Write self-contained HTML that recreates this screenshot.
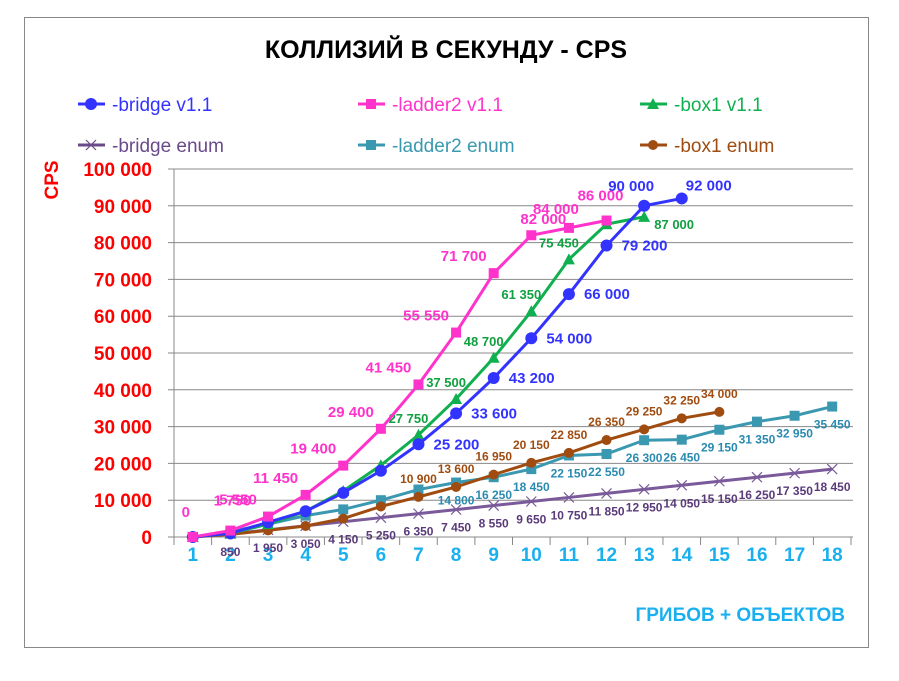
<!DOCTYPE html>
<html><head><meta charset="utf-8"><style>
body{margin:0;background:#fff;}
svg{display:block;font-family:"Liberation Sans","DejaVu Sans",sans-serif;}
</style></head><body>
<svg id="c" width="899" height="681" viewBox="0 0 899 681">
<rect x="24.5" y="17.5" width="844" height="630" fill="#fff" stroke="#888"/>
<text x="446" y="58" text-anchor="middle" font-size="25" font-weight="bold" fill="#000">КОЛЛИЗИЙ В СЕКУНДУ - CPS</text>
<g id="legend"></g>
<g id="grid"></g>
<g id="plot"></g>
<text x="0" y="0" transform="translate(58,180) rotate(-90)" text-anchor="middle" font-size="19" font-weight="bold" fill="#f00">CPS</text>
<text x="845" y="621" text-anchor="end" font-size="19" font-weight="bold" fill="#1ab0f0">ГРИБОВ + ОБЪЕКТОВ</text>
</svg>
<script>
const categories=[1,2,3,4,5,6,7,8,9,10,11,12,13,14,15,16,17,18];
const yTicks=[0,10000,20000,30000,40000,50000,60000,70000,80000,90000,100000];
const bridgeV11=[0,1000,4000,7000,12000,18000,25200,33600,43200,54000,66000,79200,90000,92000];
const ladder2V11=[0,1750,5550,11450,19400,29400,41450,55550,71700,82000,84000,86000];
const box1V11=[0,1000,3500,7000,12500,19500,27750,37500,48700,61350,75450,85000,87000];
const bridgeEnum=[0,850,1950,3050,4150,5250,6350,7450,8550,9650,10750,11850,12950,14050,15150,16250,17350,18450];
const ladder2Enum=[0,1500,3500,5800,7500,10000,12900,14800,16250,18450,22150,22550,26300,26450,29150,31350,32950,35450];
const box1Enum=[0,700,1800,3000,5000,8300,10900,13600,16950,20150,22850,26350,29250,32250,34000];
const bridgeV11Labels=[null,null,null,null,null,null,"25 200","33 600","43 200","54 000","66 000","79 200","90 000","92 000"];
const ladder2V11Labels=["0","1 750","5 550","11 450","19 400","29 400","41 450","55 550","71 700","82 000","84 000","86 000"];
const box1V11Labels=[null,null,null,null,null,null,"27 750","37 500","48 700","61 350","75 450",null,"87 000"];
const bridgeEnumLabels=[null,"850","1 950","3 050","4 150","5 250","6 350","7 450","8 550","9 650","10 750","11 850","12 950","14 050","15 150","16 250","17 350","18 450"];
const ladder2EnumLabels=[null,null,null,null,null,null,null,"14 800","16 250","18 450","22 150","22 550","26 300","26 450","29 150","31 350","32 950","35 450"];
const box1EnumLabels=[null,null,null,null,null,null,"10 900","13 600","16 950","20 150","22 850","26 350","29 250","32 250","34 000"];

const NS="http://www.w3.org/2000/svg";
const L=174,R=851,T=169,B=537;
const step=(R-L)/categories.length;
const x=i=>L+step*(i+0.5);
const y=v=>B-(v/100000)*(B-T);
function mk(tag,attrs,parent){const e=document.createElementNS(NS,tag);for(const k in attrs)e.setAttribute(k,attrs[k]);parent.appendChild(e);return e;}
const grid=document.getElementById('grid'),plot=document.getElementById('plot'),leg=document.getElementById('legend');
yTicks.forEach(t=>{
  const ln=mk('line',{x1:L-6,x2:R+2,y1:y(t),y2:y(t),stroke:'#888','stroke-width':1},grid);
  
  
  const tx=mk('text',{x:152,y:y(t)+7,'text-anchor':'end','font-size':19,'font-weight':'bold',fill:'#f00'},grid);
  tx.textContent=t===0?'0':(t/1000)+' 000';
  
  
});
const yl=mk('line',{x1:L,x2:L,y1:T,y2:B+8,stroke:'#888'},grid);


for(let i=0;i<=categories.length;i++){
  const tk=mk('line',{x1:L+step*i,x2:L+step*i,y1:B,y2:B+8,stroke:'#888'},grid);
  
  
}
categories.forEach((c,i)=>{
  const tx=mk('text',{x:x(i),y:561,'text-anchor':'middle','font-size':19,'font-weight':'bold',fill:'#1ab0f0'},grid);
  tx.textContent=c;
  
  
});
function marker(g,type,cx,cy,col){
  let m;
  if(type==='circle')m=mk('circle',{cx,cy,r:6,fill:col},g);
  else if(type==='square')m=mk('rect',{x:cx-5,y:cy-5,width:10,height:10,fill:col},g);
  else if(type==='tri')m=mk('polygon',{points:`${cx},${cy-6} ${cx+6},${cy+5} ${cx-6},${cy+5}`,fill:col},g);
  else if(type==='dot')m=mk('circle',{cx,cy,r:5,fill:col},g);
  else {m=mk('path',{d:`M${cx-5} ${cy-5}L${cx+5} ${cy+5}M${cx-5} ${cy+5}L${cx+5} ${cy-5}`,stroke:col,'stroke-width':1.2},g);}
  return m;
}
const series=[
 {name:'bridge-enum',data:bridgeEnum,labels:bridgeEnumLabels,col:'#7a5a9a',mk:'x',dx:0,dy:22,fs:12,lc:'#5a3a7a'},
 {name:'ladder2-enum',data:ladder2Enum,labels:ladder2EnumLabels,col:'#3a98b0',mk:'square',dx:0,dy:22,fs:12,lc:'#2a8ab0'},
 {name:'box1-enum',data:box1Enum,labels:box1EnumLabels,col:'#a04c10',mk:'dot',dx:0,dy:-14,fs:12,lc:'#a04c10'},
 {name:'box1-v11',data:box1V11,labels:box1V11Labels,col:'#10b050',mk:'tri',dx:-10,dy:-12,fs:13,lc:'#10a040'},
 {name:'bridge-v11',data:bridgeV11,labels:bridgeV11Labels,col:'#3333ff',mk:'circle',dx:38,dy:5,fs:15,lc:'#3333ff'},
 {name:'ladder2-v11',data:ladder2V11,labels:ladder2V11Labels,col:'#ff33cc',mk:'square',dx:-30,dy:-12,fs:15,lc:'#ff33cc'}
];
series.forEach(s=>{
  const g=mk('g',{},plot);
  
  
  const pl=mk('polyline',{points:s.data.map((v,i)=>x(i)+','+y(v)).join(' '),fill:'none',stroke:s.col,'stroke-width':3},g);
  
  
  s.data.forEach((v,i)=>{
    const m=marker(g,s.mk,x(i),y(v),s.col);
    
    
    const lb=s.labels[i];
    if(lb){
      let dx=s.dx,dy=s.dy;
      if(s.name==='ladder2-v11'&&i===0){dx=-7;dy=-20;}
      if(s.name==='ladder2-v11'&&i===1){dx=2;dy=-25;}
      if(s.name==='ladder2-v11'&&i===9){dx=12;dy=-11;}
      if(s.name==='ladder2-v11'&&i===10){dx=-13;dy=-14;}
      if(s.name==='ladder2-v11'&&i===11){dx=-6;dy=-20;}
      if(s.name==='bridge-v11'&&i===12){dx=-13;dy=-15;}
      if(s.name==='bridge-v11'&&i===13){dx=27;dy=-8;}
      if(s.name==='box1-v11'&&i===12){dx=30;dy=12;}
      const t=mk('text',{x:x(i)+dx,y:y(v)+dy,'text-anchor':'middle','font-size':s.fs,'font-weight':'bold',fill:s.lc},g);
      t.textContent=lb;
      
      
    }
  });
});
const legendItems=[
 ['-bridge v1.1','#3333ff','circle',78,104],['-ladder2 v1.1','#ff33cc','square',358,104],['-box1 v1.1','#10b050','tri',640,104],
 ['-bridge enum','#6a4a8a','x',78,145],['-ladder2 enum','#3a98b0','square',358,145],['-box1 enum','#a04c10','dot',640,145]];
legendItems.forEach(it=>{
  const g=mk('g',{},leg);
  
  
  mk('line',{x1:it[3],x2:it[3]+27,y1:it[4],y2:it[4],stroke:it[1],'stroke-width':3},g);
  marker(g,it[2],it[3]+13,it[4],it[1]);
  const t=mk('text',{x:it[3]+34,y:it[4]+7,'font-size':19,fill:it[1]},g);
  t.textContent=it[0];
});
</script>
</body></html>
